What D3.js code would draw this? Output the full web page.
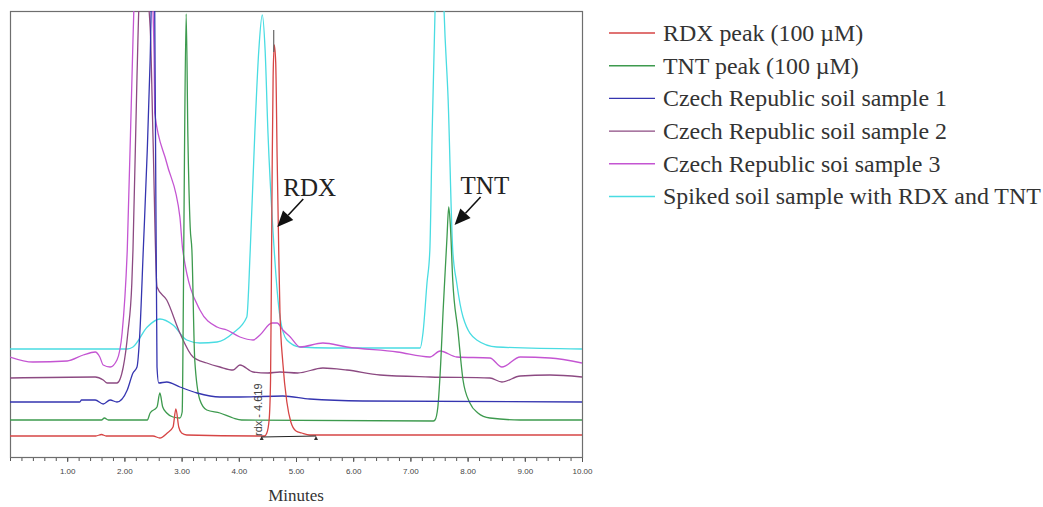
<!DOCTYPE html>
<html>
<head>
<meta charset="utf-8">
<script src="https://cdn.jsdelivr.net/npm/d3@7"></script>
<style>
  html, body { margin: 0; padding: 0; background: #fff; }
  svg { display: block; }
</style>
</head>
<body>
<svg id="chart" width="1043" height="507"></svg>
<script>
// ---------- DATA (retention time in minutes, detector signal in arbitrary units) ----------
const seriesNames = [
  "RDX peak (100 \u00b5M)",
  "TNT peak (100 \u00b5M)",
  "Czech Republic soil sample 1",
  "Czech Republic soil sample 2",
  "Czech Republic soi sample 3",
  "Spiked soil sample with RDX and TNT"
];
const seriesColors = ["#d64545", "#3d9a4e", "#3535b0", "#8c4a82", "#c455d2", "#49dce2"];

const rdxStd = [
  [0,21],[1.50,21],[1.60,22.5],[1.68,21],[2.50,21],[2.62,19],[2.75,24],[2.85,30],[2.90,48],
  [2.95,30],[3.00,24],[3.09,22],[4.45,21],[4.49,24],[4.53,37],[4.555,77],[4.57,180],
  [4.585,300],[4.60,380],[4.62,412],[4.645,395],[4.67,300],[4.70,200],[4.72,144],[4.77,94],
  [4.84,55],[4.91,35],[5.00,26],[5.10,24],[5.24,22],[10,22]
];
const tntStd = [
  [0,37],[1.60,37],[1.65,39],[1.72,37],[2.40,37],[2.45,44],[2.57,50],[2.62,64],[2.67,50],
  [2.74,44],[2.85,40],[2.97,39],[3.01,45],[3.03,150],[3.05,300],[3.08,443],[3.11,320],
  [3.15,230],[3.18,207],[3.23,97],[3.32,57],[3.44,47],[3.67,44],[3.90,39],[4.05,37],
  [7.40,36],[7.43,37],[7.48,50],[7.53,94],[7.57,144],[7.60,177],[7.64,220],[7.67,250],
  [7.70,230],[7.74,177],[7.83,127],[7.92,77],[8.04,54],[8.18,44],[8.39,39],[8.92,37],[10,37]
];
const soil1 = [
  [0,55],[1.22,55],[1.25,57],[1.49,57],[1.63,53],[1.75,57],[1.87,55],[2.05,67],[2.15,84],
  [2.22,90],[2.27,124],[2.33,207],[2.40,307],[2.45,397],[2.50,520],[2.53,446],[2.55,257],
  [2.565,130],[2.57,90],[2.60,74],[2.74,75],[2.97,70],[3.27,64],[3.67,60],[4.02,60],
  [4.77,61],[5.24,58],[6.17,56],[10,55]
];
const soil2 = [
  [0,79],[1.49,80],[1.63,77],[1.70,74],[1.87,74],[1.98,90],[2.06,124],[2.13,174],[2.15,207],
  [2.22,380],[2.27,470],[2.35,480],[2.45,430],[2.50,320],[2.57,170],[2.74,157],[2.97,124],
  [3.20,100],[3.44,94],[3.67,90],[3.90,87],[4.02,92],[4.25,85],[4.51,84],[4.72,85],[5.03,84],
  [5.47,89],[5.89,87],[6.47,82],[7.34,80],[8.39,79],[8.60,75],[8.92,81],[9.44,82],[10,80]
];
const soil3 = [
  [0,100],[0.40,95],[1.00,96],[1.28,102],[1.49,105],[1.57,100],[1.63,92],[1.75,90],[1.87,97],
  [1.96,124],[2.05,207],[2.15,417],[2.20,500],[2.30,520],[2.45,500],[2.52,400],[2.53,344],
  [2.74,294],[2.97,240],[3.02,207],[3.32,147],[3.62,130],[3.79,127],[4.02,120],[4.25,117],
  [4.37,122],[4.58,134],[4.67,134],[4.77,127],[4.90,120],[5.07,110],[5.47,114],[5.89,110],
  [6.77,105],[7.34,100],[7.52,106],[7.81,100],[8.39,99],[8.60,90],[8.92,100],[9.44,99],[10,94]
];
const spiked = [
  [0,108],[2.05,108],[2.15,110],[2.40,130],[2.62,138],[2.85,132],[3.09,117],[3.32,114],
  [3.62,115],[3.90,124],[4.14,140],[4.20,207],[4.28,324],[4.35,407],[4.41,442],[4.46,407],
  [4.51,324],[4.60,224],[4.72,140],[4.84,117],[5.07,110],[5.59,109],[7.17,109],[7.22,124],
  [7.29,174],[7.34,207],[7.38,324],[7.43,444],[7.50,530],[7.55,530],[7.59,444],[7.66,357],
  [7.74,207],[7.81,174],[7.92,140],[8.16,117],[8.51,110],[10,108]
];
const seriesData = [rdxStd, tntStd, soil1, soil2, soil3, spiked];
const xTickLabels = [1,2,3,4,5,6,7,8,9,10];
const rdxRetention = 4.619;
const rdxIntegration = [4.40, 5.35];
const annotations = [
  { label: "RDX", t: 4.62, v: 230 },
  { label: "TNT", t: 7.72, v: 232 }
];

// ---------- LAYOUT ----------
const svg = d3.select("#chart");
const plot = { left: 10, top: 11, right: 582, bottom: 457 };
const x = d3.scaleLinear().domain([0, 10]).range([plot.left, plot.right]);
const y = d3.scaleLinear().domain([0, 446]).range([plot.bottom, plot.top]);

svg.append("defs").append("clipPath").attr("id", "clip")
  .append("rect").attr("x", plot.left).attr("y", plot.top)
  .attr("width", plot.right - plot.left).attr("height", plot.bottom - plot.top);

// frame
svg.append("rect")
  .attr("x", plot.left + 0.5).attr("y", plot.top + 0.5)
  .attr("width", plot.right - plot.left).attr("height", plot.bottom - plot.top)
  .attr("fill", "none").attr("stroke", "#6e6e6e").attr("stroke-width", 1.2);

// axes
const minorAxis = d3.axisBottom(x).tickValues(d3.range(0, 10.001, 0.2)).tickSize(3).tickFormat("");
const gMinor = svg.append("g").attr("transform", `translate(0,${plot.bottom + 1})`).call(minorAxis);
gMinor.select(".domain").remove();
gMinor.selectAll("line").attr("stroke", "#555");

const majorAxis = d3.axisBottom(x).tickValues(xTickLabels).tickSize(4).tickPadding(6)
  .tickFormat(d3.format(".2f"));
const gMajor = svg.append("g").attr("transform", `translate(0,${plot.bottom + 1})`).call(majorAxis);
gMajor.select(".domain").remove();
gMajor.selectAll("line").attr("stroke", "#555");
gMajor.selectAll("text").attr("font-family", "Liberation Sans, Arial, sans-serif")
  .attr("font-size", 8).attr("fill", "#444");

svg.append("text").attr("x", 296).attr("y", 501).attr("text-anchor", "middle")
  .attr("font-family", "Liberation Serif, Times New Roman, serif").attr("font-size", 17)
  .attr("fill", "#333").text("Minutes");

// lines
const line = d3.line().x(d => x(d[0])).y(d => y(d[1])).curve(d3.curveMonotoneX);
const gLines = svg.append("g").attr("clip-path", "url(#clip)");
// draw order: back to front
const order = [5, 4, 3, 1, 2, 0];
order.forEach(i => {
  gLines.append("path").datum(seriesData[i])
    .attr("fill", "none").attr("stroke", seriesColors[i]).attr("stroke-width", 1.3)
    .attr("stroke-linejoin", "round").attr("d", line);
});

// integration marks for RDX
const baseV = 20;
gLines.append("line")
  .attr("x1", x(rdxIntegration[0])).attr("x2", x(rdxIntegration[1]))
  .attr("y1", y(baseV)).attr("y2", y(baseV + 1))
  .attr("stroke", "#222").attr("stroke-width", 1);
rdxIntegration.forEach(t => {
  const cx = x(t), cy = y(baseV) + 2;
  gLines.append("path").attr("d", `M${cx - 2},${cy + 1}L${cx + 2},${cy + 1}L${cx},${cy - 3}Z`)
    .attr("fill", "#333");
});
gLines.append("line")
  .attr("x1", x(rdxRetention) - 0.5).attr("x2", x(rdxRetention) - 0.5)
  .attr("y1", y(427)).attr("y2", y(405)).attr("stroke", "#666").attr("stroke-width", 1.2);
svg.append("text")
  .attr("transform", `translate(${x(rdxRetention) - 12},${y(baseV) - 1}) rotate(-90)`)
  .attr("font-family", "Liberation Sans, Arial, sans-serif").attr("font-size", 11)
  .attr("fill", "#444").text("rdx - " + rdxRetention.toFixed(3));

// annotations
annotations.forEach(a => {
  const tipX = x(a.t) + 3, tipY = y(a.v);
  const tailX = tipX + 26, tailY = tipY - 28;
  const ang = Math.atan2(tipY - tailY, tipX - tailX);
  const L = 16, W = 7;
  const bx = tipX - L * Math.cos(ang), by = tipY - L * Math.sin(ang);
  const px = -Math.sin(ang) * W, py = Math.cos(ang) * W;
  svg.append("line").attr("x1", tailX).attr("y1", tailY).attr("x2", bx).attr("y2", by)
    .attr("stroke", "#111").attr("stroke-width", 1.6);
  svg.append("path")
    .attr("d", `M${tipX},${tipY}L${bx + px},${by + py}L${bx - px},${by - py}Z`)
    .attr("fill", "#111");
  svg.append("text").attr("x", tailX - 20).attr("y", tailY - 3)
    .attr("font-family", "Liberation Serif, Times New Roman, serif").attr("font-size", 25)
    .attr("fill", "#222").text(a.label);
});

// legend
const legend = svg.append("g");
seriesNames.forEach((name, i) => {
  const cy = 33 + i * 32.7;
  legend.append("line").attr("x1", 609).attr("x2", 655).attr("y1", cy).attr("y2", cy)
    .attr("stroke", seriesColors[i]).attr("stroke-width", 1.4);
  legend.append("text").attr("x", 663).attr("y", cy).attr("dy", "0.33em")
    .attr("font-family", "Liberation Serif, Times New Roman, serif").attr("font-size", 23.9)
    .attr("fill", "#333").text(name);
});
</script>
</body>
</html>
